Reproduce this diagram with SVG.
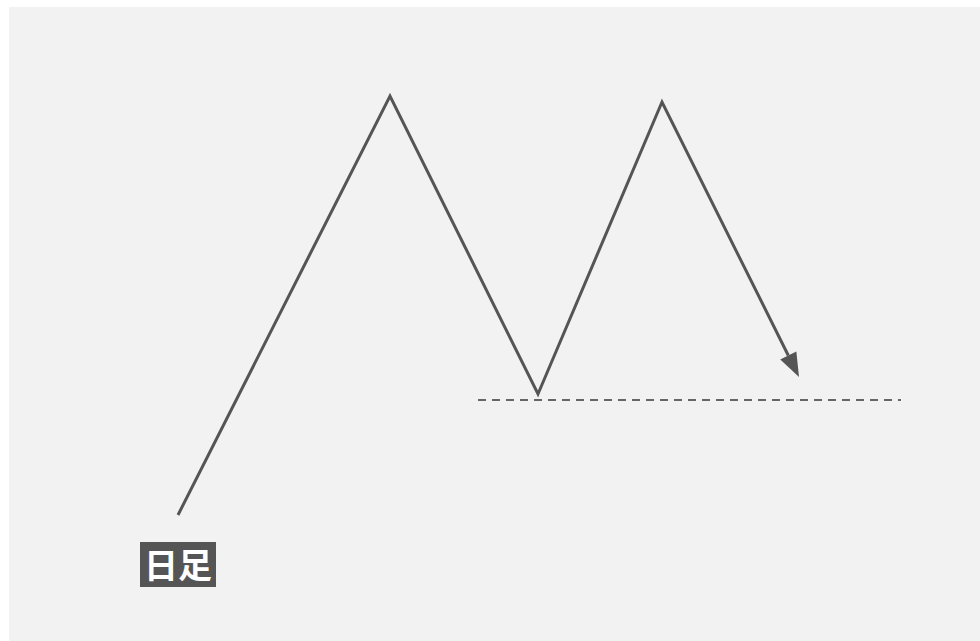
<svg xmlns="http://www.w3.org/2000/svg" width="980" height="641" viewBox="0 0 980 641">
  <style>
    .main { fill: none; stroke: #555555; stroke-width: 3; stroke-linejoin: miter; }
    .dash { fill: none; stroke: #666666; stroke-width: 2; stroke-dasharray: 8 6; }
    .lbl { fill: #ffffff; font-family: "Noto Sans CJK JP", "Noto Sans CJK SC", sans-serif; font-weight: bold; font-size: 34px; }
  </style>
  <defs>
    <marker id="arrow" markerUnits="userSpaceOnUse" markerWidth="26" markerHeight="20" refX="0" refY="9" orient="auto" viewBox="0 0 26 20" overflow="visible">
      <path d="M0,0 L24,9 L0,18 Z" fill="#555555"/>
    </marker>
  </defs>
  <rect x="0" y="0" width="980" height="641" fill="#ffffff"/>
  <rect x="9" y="7" width="971" height="634" fill="#f2f2f2"/>
  <g id="connectors">
    <line class="dash" x1="478" y1="400" x2="901" y2="400"/>
    <polyline class="main" points="178,515 390,96 538,394 662,102 788.3,355.5" marker-end="url(#arrow)"/>
  </g>
  <g id="label">
    <rect x="140" y="542" width="76" height="45" fill="#555555"/>
    <text class="lbl" x="178" y="578" text-anchor="middle">日足</text>
  </g>
</svg>
